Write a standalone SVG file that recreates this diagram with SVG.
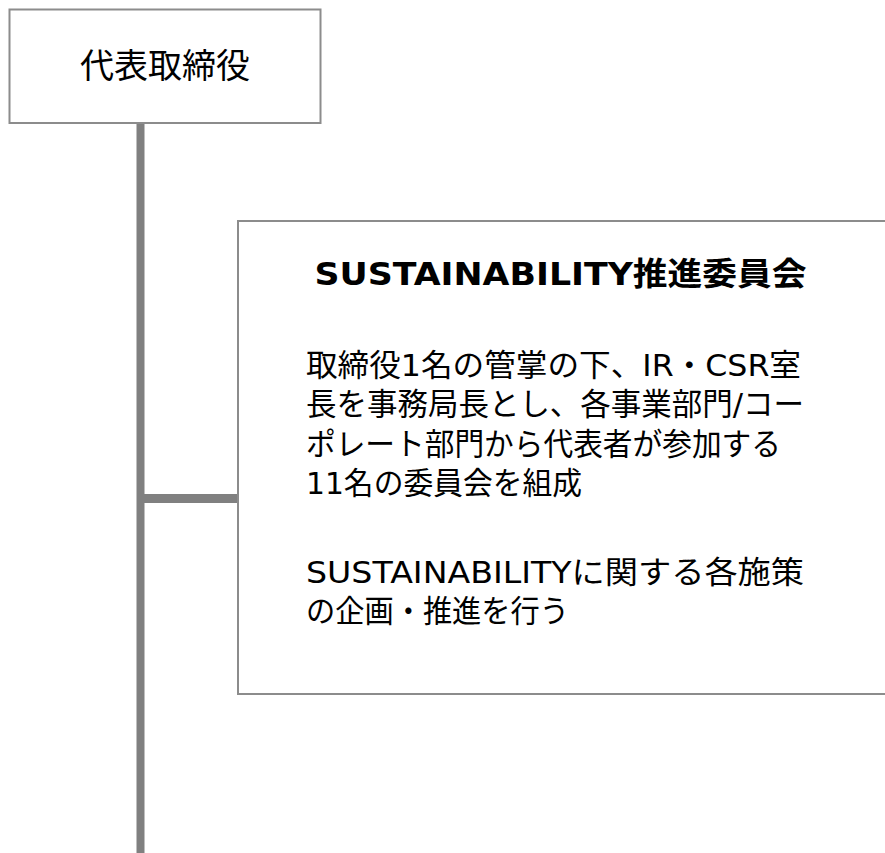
<svg xmlns="http://www.w3.org/2000/svg" width="885" height="853" viewBox="0 0 885 853">
<style>
.box{fill:#ffffff;stroke:#8c8c8c;stroke-width:2}
.conn{stroke:#808080;stroke-width:8;fill:none}
.t{font-family:"DejaVu Sans","Noto Sans CJK JP",sans-serif;fill:#000000}
.cjk{font-family:"Noto Sans CJK JP","DejaVu Sans",sans-serif;fill:#000000}
.body{font-size:31px}
.title{font-size:32px;font-weight:bold}
</style>
<rect width="885" height="853" fill="#ffffff"/>
<g id="connectors">
<line class="conn" x1="140.5" y1="123" x2="140.5" y2="853"/>
<line class="conn" x1="140.5" y1="498.5" x2="238" y2="498.5" style="stroke-width:9"/>
</g>
<g id="node-ceo">
<rect class="box" x="9.5" y="9.5" width="311" height="113.5"/>
<text class="cjk" x="165" y="78" font-size="34" text-anchor="middle">代表取締役</text>
</g>
<g id="node-committee">
<rect class="box" x="238" y="221" width="660" height="473"/>
<text class="t title" x="560.5" y="284.5" text-anchor="middle" textLength="492" lengthAdjust="spacingAndGlyphs">SUSTAINABILITY推進委員会</text>
<text class="t body" x="306" y="375.5" textLength="495" lengthAdjust="spacingAndGlyphs">取締役1名の管掌の下、IR・CSR室</text>
<text class="t body" x="306" y="415" textLength="498" lengthAdjust="spacingAndGlyphs">長を事務局長とし、各事業部門/コー</text>
<text class="t body" x="306" y="454.5" textLength="475" lengthAdjust="spacingAndGlyphs">ポレート部門から代表者が参加する</text>
<text class="t body" x="306" y="494" textLength="276" lengthAdjust="spacingAndGlyphs">11名の委員会を組成</text>
<text class="t body" x="306" y="582.5" textLength="498" lengthAdjust="spacingAndGlyphs">SUSTAINABILITYに関する各施策</text>
<text class="t body" x="306" y="622" textLength="263" lengthAdjust="spacingAndGlyphs">の企画・推進を行う</text>
</g>
</svg>
